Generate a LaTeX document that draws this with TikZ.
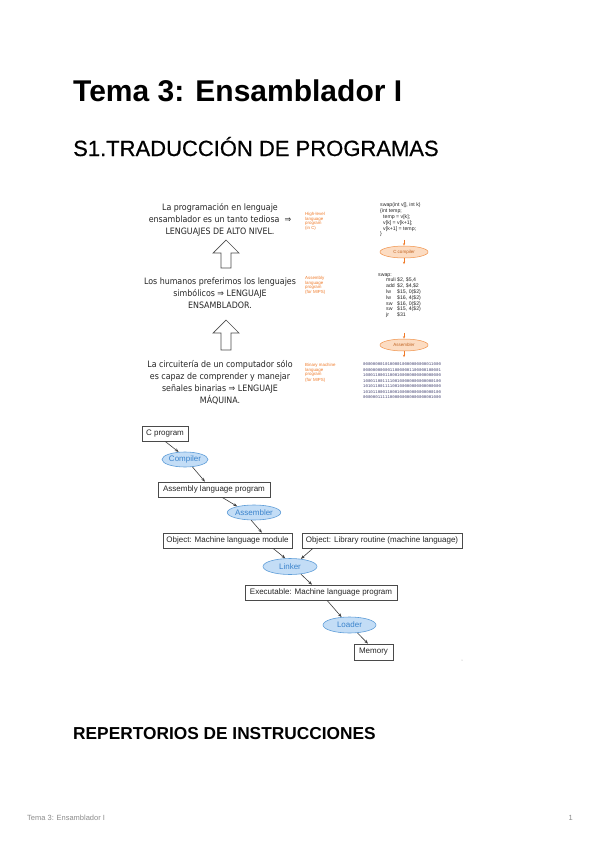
\documentclass[tikz,border=0pt]{standalone}
\usepackage{fontspec}
\setmainfont{Liberation Sans}
\newfontfamily\medfont[FakeBold=0.5]{Liberation Sans}
\newfontfamily\tahoma{DejaVu Sans Condensed}
\newfontfamily\binfont{Liberation Mono}
\usetikzlibrary{arrows.meta,shapes.geometric,calc}
\definecolor{orng}{HTML}{F07A28}
\definecolor{orfill}{HTML}{FCDCC2}
\definecolor{orline}{HTML}{F0924A}
\definecolor{boxgray}{HTML}{4A4A4A}
\definecolor{ovalfill}{HTML}{C3DDF6}
\definecolor{ovalline}{HTML}{5E9DD8}
\definecolor{ovaltext}{HTML}{3A83CC}
\definecolor{bintext}{HTML}{3E3E6E}
\newcommand\myfs[2]{\fontsize{#1}{#2}\selectfont}
\begin{document}
\begin{tikzpicture}[x=1pt,y=-1pt,
  box/.style={draw=boxgray, line width=0.6pt, fill=white, minimum height=15pt, inner sep=0pt, font=\myfs{8}{9}, text=black!85},
  oval/.style={ellipse, draw=ovalline, fill=ovalfill, line width=0.6pt, inner sep=0pt, font=\myfs{8}{9}, text=ovaltext},
  conn/.style={draw=black!75, line width=0.6pt, -{Stealth[length=4pt,width=3pt]}},
  orconn/.style={draw=orng, line width=0.5pt, -{Stealth[length=2.5pt,width=2pt]}},
  orval/.style={ellipse, draw=orline, fill=orfill, line width=0.5pt, inner sep=0pt, minimum width=48pt, minimum height=12pt, font=\myfs{4.5}{5}, text=orng!80!black},
  orlabel/.style={anchor=north west, align=left, inner sep=0pt, font=\myfs{4.4}{4.7}, text=orng},
  codetext/.style={anchor=north west, align=left, inner sep=0pt, font=\myfs{5.2}{5.8}, text=black!85},
  leftblock/.style={align=center, inner sep=0pt, font=\tahoma\myfs{8.8}{12}, text=black!85},
  hollow/.style={draw=black!70, line width=0.7pt, fill=white}
]
\useasboundingbox (0,0) rectangle (600,848);
\fill[white] (0,0) rectangle (600,848);

% Headings
\node[anchor=base west, inner sep=0pt, font=\bfseries\myfs{30}{36}] (title) at (73,102) {Tema 3: Ensamblador I};
\node[anchor=base west, inner sep=0pt, font=\medfont\myfs{22}{26}] (s1) at (73,156) {S1.TRADUCCIÓN DE PROGRAMAS};
\node[anchor=base west, inner sep=0pt, font=\bfseries\myfs{17.3}{20}] (rep) at (73,739) {REPERTORIOS DE INSTRUCCIONES};
\node[anchor=base west, inner sep=0pt, font=\myfs{7.5}{9}, text=black!45] (foot) at (27,820) {Tema 3: Ensamblador I};
\node[anchor=base east, inner sep=0pt, font=\myfs{7.5}{9}, text=black!45] (page) at (573,820) {1};

% Left text blocks
\node[leftblock, anchor=north] (t1) at (220,203) {La programación en lenguaje\\ensamblador es un tanto tediosa \ ⇒\\LENGUAJES DE ALTO NIVEL.};
\node[leftblock, anchor=north] (t2) at (220,278) {Los humanos preferimos los lenguajes\\simbólicos ⇒ LENGUAJE\\ENSAMBLADOR.};
\node[leftblock, anchor=north] (t3) at (220,360) {La circuitería de un computador sólo\\es capaz de comprender y manejar\\señales binarias ⇒ LENGUAJE\\MÁQUINA.};

% Hollow up arrows
\draw[hollow] (221,268) -- (221,253) -- (213,253) -- (226,240) -- (239,253) -- (231,253) -- (231,268) -- cycle;
\draw[hollow] (221,350) -- (221,333) -- (213,333) -- (226,320) -- (239,333) -- (231,333) -- (231,350) -- cycle;

% Right panel labels
\node[orlabel] (l1) at (305,212) {High-level\\language\\program\\(in C)};
\node[orlabel] (l2) at (305,276) {Assembly\\language\\program\\(for MIPS)};
\node[orlabel] (l3) at (305,363) {Binary machine\\language\\program\\[0.6pt](for MIPS)};

% Right panel code
\node[codetext] (code1) at (380,203) {swap(int v[], int k)\\\{int temp;\\\hspace*{3pt}temp = v[k];\\\hspace*{3pt}v[k] = v[k+1];\\\hspace*{3pt}v[k+1] = temp;\\\}};
\node[orval] (ccomp) at (404,252) {C compiler};
\node[codetext] (code2) at (378,273) {swap:\\
\hspace*{8pt}\makebox[11pt][l]{muli}\$2, \$5,4\\
\hspace*{8pt}\makebox[11pt][l]{add}\$2, \$4,\$2\\
\hspace*{8pt}\makebox[11pt][l]{lw}\$15, 0(\$2)\\
\hspace*{8pt}\makebox[11pt][l]{lw}\$16, 4(\$2)\\
\hspace*{8pt}\makebox[11pt][l]{sw}\$16, 0(\$2)\\
\hspace*{8pt}\makebox[11pt][l]{sw}\$15, 4(\$2)\\
\hspace*{8pt}\makebox[11pt][l]{jr}\$31};
\node[orval] (asm) at (404,345) {Assembler};
\node[anchor=north west, align=left, inner sep=0pt, font=\binfont\myfs{4.05}{5.2}, text=bintext] (bin) at (363,363) {00000000101000010000000000011000\\00000000000110000001100000100001\\10001100011000100000000000000000\\[0.6pt]10001100111100100000000000000100\\10101100111100100000000000000000\\[0.6pt]10101100011000100000000000000100\\00000011111000000000000000001000};

\draw[orconn] ([yshift=6pt]ccomp.north) -- (ccomp.north);
\draw[orconn] (ccomp.south) -- ([yshift=-6pt]ccomp.south);
\draw[orconn] ([yshift=6pt]asm.north) -- (asm.north);
\draw[orconn] (asm.south) -- ([yshift=-6pt]asm.south);

% Bottom flow diagram
\node[box, minimum width=46pt] (cprog) at (165,433.5) {C program};
\node[oval, minimum width=46pt, minimum height=15pt] (compiler) at (185,459.5) {Compiler};
\node[box, minimum width=112pt] (asmprog) at (214,489.5) {Assembly language program};
\node[oval, minimum width=47pt, minimum height=15pt] (assembler) at (254,512.5) {Assembler};
\node[box, minimum width=129pt] (objmod) at (227.5,540.5) {Object: Machine language module};
\node[box, minimum width=160pt] (lib) at (382,540.5) {Object: Library routine (machine language)};
\node[oval, minimum width=54pt, minimum height=16pt] (linker) at (290,566.5) {Linker};
\node[box, minimum width=152pt] (exec) at (321,592.5) {Executable: Machine language program};
\node[oval, minimum width=53pt, minimum height=16pt] (loader) at (349.5,625) {Loader};
\node[box, minimum width=39pt, minimum height=16pt] (memory) at (373.5,652) {Memory};

\draw[conn] (cprog.south) -- (compiler.130);
\draw[conn] (compiler.-45) -- ($(asmprog.north)+(-9,0)$);
\draw[conn] ($(asmprog.south)+(8,0)$) -- (assembler.160);
\draw[conn] (assembler.-110) -- ($(objmod.north)+(34.5,0)$);
\draw[conn] ($(objmod.south)+(45.5,0)$) -- (linker.120);
\draw[conn] ($(lib.south)+(-69,0)$) -- (linker.35);
\draw[conn] (linker.-35) -- ($(exec.north)+(-9,0)$);
\draw[conn] ($(exec.south)+(6,0)$) -- (loader.135);
\draw[conn] (loader.-45) -- ($(memory.north)+(-5.5,0)$);

\fill[black!35] (462,660) circle (0.5);
\end{tikzpicture}
\end{document}
